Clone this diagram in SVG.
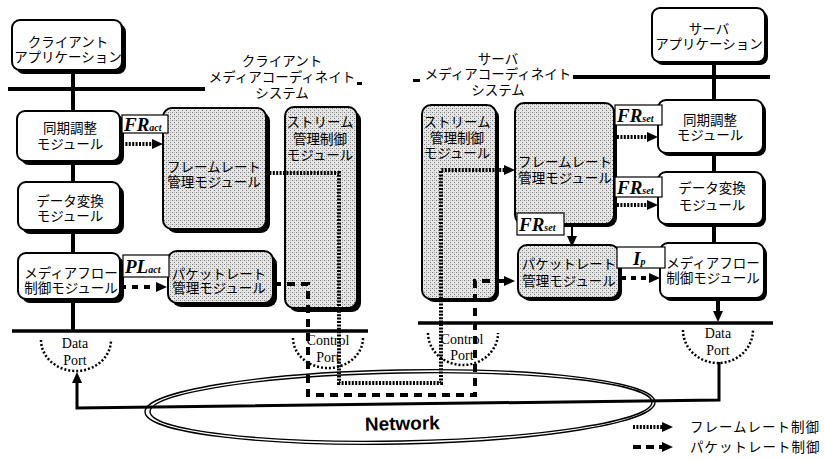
<svg xmlns="http://www.w3.org/2000/svg" width="825" height="460" viewBox="0 0 825 460">
<defs>
<pattern id="stip" width="4" height="4" patternUnits="userSpaceOnUse">
<rect width="4" height="4" fill="#e6e6e6"/>
<rect x="0" y="0" width="1" height="1" fill="#7a7a7a"/>
<rect x="2" y="2" width="1" height="1" fill="#7a7a7a"/>
<rect x="2" y="0" width="1" height="1" fill="#b8b8b8"/>
</pattern>
<marker id="ah" markerUnits="userSpaceOnUse" markerWidth="12" markerHeight="12" refX="0" refY="5" orient="auto">
<path d="M0,0 L11,5 L0,10 z" fill="#000"/>
</marker>
<style>
.box{fill:#fff;stroke:#000;stroke-width:2}
.shade{fill:url(#stip);stroke:#000;stroke-width:2}
.sh{fill:#000}
.jp{font-family:"Noto Sans CJK JP","Noto Sans",sans-serif;font-size:13.5px;text-anchor:middle;fill:#000}
.sr{font-family:"Liberation Serif","Times New Roman",serif;text-anchor:middle;fill:#000}
.lbl{fill:#fff;stroke:#000;stroke-width:1.2}
.lt{font-family:"Liberation Serif",serif;font-weight:bold;font-style:italic;font-size:19px;fill:#000}
.sub{font-size:10px}
.dot{fill:none;stroke:#000;stroke-width:4;stroke-dasharray:2 1.4}
.dash{fill:none;stroke:#000;stroke-width:4;stroke-dasharray:8 6}
.bus{stroke:#000;stroke-width:4;fill:none}
.port{fill:none;stroke:#000;stroke-width:2.5;stroke-dasharray:2 2}
.net{fill:none;stroke:#000;stroke-width:1.4}
</style>
</defs>
<rect width="825" height="460" fill="#fff"/>

<!-- buses and backbone lines -->
<g id="buses">
<line class="bus" x1="8" y1="89" x2="205" y2="89"/>
<line class="bus" x1="573" y1="77" x2="770" y2="77"/>
<line class="bus" x1="12" y1="331" x2="368" y2="331" style="stroke-width:3.5"/>
<line class="bus" x1="418" y1="323" x2="773" y2="323" style="stroke-width:3.5"/>
<line class="bus" x1="73" y1="70" x2="73" y2="331"/>
<line class="bus" x1="714" y1="62" x2="714" y2="300"/>
<rect x="357" y="82" width="5" height="3" fill="#000"/>
<rect x="413" y="79" width="7" height="3" fill="#000"/>
</g>

<!-- network -->
<g id="network" transform="rotate(-1.1 400 407)">
<ellipse class="net" cx="400" cy="407" rx="255" ry="37"/>
<ellipse class="net" cx="401" cy="407" rx="251" ry="34"/>
<text x="402" y="430" font-family="Liberation Sans, Arial, sans-serif" font-weight="bold" font-size="19" text-anchor="middle">Network</text>
</g>

<!-- client nodes -->
<g id="client-app">
<rect class="sh" x="16" y="24" width="110" height="50" rx="8"/>
<rect class="box" x="12" y="20" width="110" height="50" rx="8"/>
<text class="jp" x="68" y="47">クライアント</text>
<text class="jp" x="68" y="62">アプリケーション</text>
</g>
<g id="client-mcs-label">
<text class="jp" x="282" y="66">クライアント</text>
<text class="jp" x="282" y="82">メディアコーディネイト</text>
<text class="jp" x="282" y="98">システム</text>
</g>
<g id="client-sync">
<rect class="sh" x="21" y="115" width="103" height="50" rx="8"/>
<rect class="box" x="17" y="111" width="103" height="50" rx="8"/>
<text class="jp" x="70" y="133">同期調整</text>
<text class="jp" x="70" y="149">モジュール</text>
</g>
<g id="client-conv">
<rect class="sh" x="22" y="186" width="102" height="48" rx="8"/>
<rect class="box" x="18" y="182" width="102" height="48" rx="8"/>
<text class="jp" x="70" y="206">データ変換</text>
<text class="jp" x="70" y="221">モジュール</text>
</g>
<g id="client-flow">
<rect class="sh" x="22" y="257" width="102" height="46" rx="8"/>
<rect class="box" x="18" y="253" width="102" height="46" rx="8"/>
<text class="jp" x="71" y="278">メディアフロー</text>
<text class="jp" x="71" y="293">制御モジュール</text>
</g>
<g id="client-frame">
<rect class="sh" x="167" y="112" width="103" height="121" rx="9"/>
<rect class="shade" x="163" y="108" width="103" height="121" rx="9"/>
<text class="jp" x="214" y="172">フレームレート</text>
<text class="jp" x="214" y="187">管理モジュール</text>
</g>
<g id="client-packet">
<rect class="sh" x="172" y="255" width="105" height="52" rx="9"/>
<rect class="shade" x="168" y="251" width="105" height="52" rx="9"/>
<text class="jp" x="219" y="279">パケットレート</text>
<text class="jp" x="219" y="293">管理モジュール</text>
</g>
<g id="client-stream">
<rect class="sh" x="289" y="111" width="72" height="201" rx="9"/>
<rect class="shade" x="285" y="107" width="72" height="201" rx="9"/>
<text class="jp" x="320" y="127">ストリーム</text>
<text class="jp" x="320" y="144">管理制御</text>
<text class="jp" x="320" y="160">モジュール</text>
</g>

<!-- server nodes -->
<g id="server-app">
<rect class="sh" x="655" y="11" width="113" height="54" rx="8"/>
<rect class="box" x="652" y="8" width="113" height="54" rx="8"/>
<text class="jp" x="709" y="34">サーバ</text>
<text class="jp" x="709" y="49">アプリケーション</text>
</g>
<g id="server-mcs-label">
<text class="jp" x="498" y="64">サーバ</text>
<text class="jp" x="498" y="79">メディアコーディネイト</text>
<text class="jp" x="498" y="95">システム</text>
</g>
<g id="server-stream">
<rect class="sh" x="425" y="108" width="74" height="194" rx="9"/>
<rect class="shade" x="422" y="105" width="74" height="194" rx="9"/>
<text class="jp" x="457" y="127">ストリーム</text>
<text class="jp" x="457" y="143">管理制御</text>
<text class="jp" x="457" y="158">モジュール</text>
</g>
<g id="server-frame">
<rect class="sh" x="518" y="106" width="99" height="121" rx="9"/>
<rect class="shade" x="515" y="103" width="99" height="121" rx="9"/>
<text class="jp" x="565" y="167">フレームレート</text>
<text class="jp" x="565" y="183">管理モジュール</text>
</g>
<g id="server-packet">
<rect class="sh" x="521" y="248" width="101" height="53" rx="9"/>
<rect class="shade" x="518" y="245" width="101" height="53" rx="9"/>
<text class="jp" x="569" y="269">パケットレート</text>
<text class="jp" x="569" y="286">管理モジュール</text>
</g>
<g id="server-sync">
<rect class="sh" x="661" y="103" width="105" height="53" rx="8"/>
<rect class="box" x="658" y="100" width="105" height="53" rx="8"/>
<text class="jp" x="710" y="125">同期調整</text>
<text class="jp" x="710" y="140">モジュール</text>
</g>
<g id="server-conv">
<rect class="sh" x="661" y="175" width="105" height="52" rx="8"/>
<rect class="box" x="658" y="172" width="105" height="52" rx="8"/>
<text class="jp" x="712" y="193">データ変換</text>
<text class="jp" x="712" y="210">モジュール</text>
</g>
<g id="server-flow">
<rect class="sh" x="663" y="246" width="104" height="55" rx="8"/>
<rect class="box" x="660" y="243" width="104" height="55" rx="8"/>
<text class="jp" x="713" y="268">メディアフロー</text>
<text class="jp" x="713" y="283">制御モジュール</text>
</g>

<!-- ports -->
<g id="client-data-port">
<path class="port" d="M41,340 A35,31 0 0 0 111,340"/>
<text class="sr" x="75" y="348" font-size="14">Data</text>
<text class="sr" x="75" y="365" font-size="14">Port</text>
</g>
<g id="client-control-port">
<path class="port" d="M293,338 A35,30 0 0 0 363,338"/>
<text class="sr" x="328" y="345" font-size="14">Control</text>
<text class="sr" x="328" y="362" font-size="14">Port</text>
</g>
<g id="server-control-port">
<path class="port" d="M428,333 A35,32 0 0 0 498,333"/>
<text class="sr" x="462" y="344" font-size="14">Control</text>
<text class="sr" x="462" y="360" font-size="14">Port</text>
</g>
<g id="server-data-port">
<path class="port" d="M683,330 A35,33 0 0 0 753,330"/>
<text class="sr" x="718" y="338" font-size="14">Data</text>
<text class="sr" x="718" y="355" font-size="14">Port</text>
</g>

<!-- connectors -->
<g id="connectors">
<path class="dot" d="M122,144 H152" marker-end="url(#ah)"/>
<path class="dash" d="M120,287 H156" style="stroke-dasharray:6 6" marker-end="url(#ah)"/>
<path class="dot" d="M266,173 H339 V383 H441 V170 H504" marker-end="url(#ah)"/>
<path class="dash" d="M273,284 H308 V395 H475 V281 H504" marker-end="url(#ah)"/>
<path class="dot" d="M617,137 H647" marker-end="url(#ah)"/>
<path class="dot" d="M617,205 H647" marker-end="url(#ah)"/>
<path fill="none" stroke="#000" stroke-width="2" d="M572,224 V236" marker-end="url(#ah)"/>
<path class="dash" d="M621,278 H649" style="stroke-dasharray:5 5" marker-end="url(#ah)"/>
<path fill="none" stroke="#000" stroke-width="4" d="M718,298 V311" marker-end="url(#ah)"/>
<path fill="none" stroke="#000" stroke-width="3" d="M719,362 V400 L77,408 V383" marker-end="url(#ah)"/>
</g>

<!-- labels -->
<g id="label-fr-act">
<rect class="lbl" x="122" y="115" width="46" height="18"/>
<text class="lt" x="124" y="131">FR<tspan class="sub">act</tspan></text>
</g>
<g id="label-pl-act">
<rect class="lbl" x="123" y="255" width="46" height="22"/>
<text class="lt" x="125" y="273">PL<tspan class="sub">act</tspan></text>
</g>
<g id="label-fr-set-1">
<rect class="lbl" x="615" y="105" width="47" height="20"/>
<text class="lt" x="617" y="122">FR<tspan class="sub">set</tspan></text>
</g>
<g id="label-fr-set-2">
<rect class="lbl" x="615" y="177" width="47" height="20"/>
<text class="lt" x="617" y="194">FR<tspan class="sub">set</tspan></text>
</g>
<g id="label-fr-set-3">
<rect class="lbl" x="517" y="213" width="47" height="22"/>
<text class="lt" x="519" y="231">FR<tspan class="sub">set</tspan></text>
</g>
<g id="label-ip">
<rect class="lbl" x="617" y="247" width="48" height="21"/>
<text class="lt" x="633" y="265">I<tspan class="sub">p</tspan></text>
</g>

<!-- legend -->
<g id="legend">
<path class="dot" d="M633,427 H662" marker-end="url(#ah)"/>
<path class="dash" d="M633,447 H662" style="stroke-dasharray:8 5" marker-end="url(#ah)"/>
<text class="jp" x="690" y="432" style="text-anchor:start;letter-spacing:1px">フレームレート制御</text>
<text class="jp" x="690" y="452" style="text-anchor:start;letter-spacing:1px">パケットレート制御</text>
</g>
</svg>
